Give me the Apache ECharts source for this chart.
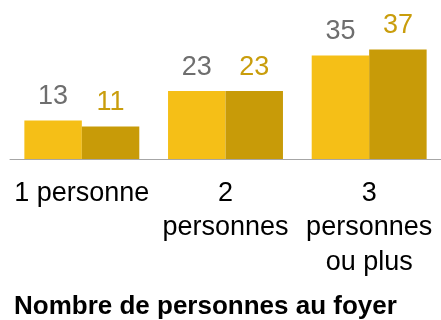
<!DOCTYPE html>
<html>
<head>
<meta charset="utf-8">
<style>
  html, body { margin: 0; padding: 0; background: #ffffff; }
  #chart { width: 441px; height: 320px; }
</style>
<script src="https://cdn.jsdelivr.net/npm/echarts@6/dist/echarts.min.js"></script>
</head>
<body>
<div id="chart"></div>
<script>
// Household size groups and the two compared series
const categories = ['1 personne', '2\npersonnes', '3\npersonnes\nou plus'];
const seriesA = [13, 23, 35];
const seriesB = [11, 23, 37];
const axisTitle = 'Nombre de personnes au foyer';

const FONT = '"Liberation Sans", Arial, sans-serif';

const chart = echarts.init(document.getElementById('chart'), null, { renderer: 'canvas' });

chart.setOption({
  animation: false,
  backgroundColor: '#ffffff',
  title: {
    text: axisTitle,
    left: 9,
    top: 289,
    textStyle: { fontFamily: FONT, fontSize: 26, fontWeight: 'bold', color: '#000000' }
  },
  grid: { left: 10, right: -4, top: 11, bottom: 161, containLabel: false },
  xAxis: {
    type: 'category',
    data: categories,
    axisLine: { show: true, lineStyle: { color: '#a6a6a6', width: 1 } },
    axisTick: { show: false },
    axisLabel: {
      interval: 0,
      margin: 17,
      fontFamily: FONT,
      fontSize: 27,
      lineHeight: 34.5,
      color: '#000000',
      align: 'center'
    }
  },
  yAxis: {
    type: 'value',
    min: 0,
    max: 50,
    show: false,
    splitLine: { show: false }
  },
  series: [
    {
      type: 'bar',
      data: seriesA,
      barGap: '0%',
      barCategoryGap: '20%',
      itemStyle: { color: '#F5BF17' },
      label: {
        show: true,
        position: 'top',
        distance: 10,
        fontFamily: FONT,
        fontSize: 27,
        color: '#6e6e6e'
      }
    },
    {
      type: 'bar',
      data: seriesB,
      barGap: '0%',
      barCategoryGap: '20%',
      itemStyle: { color: '#C89B08' },
      label: {
        show: true,
        position: 'top',
        distance: 10,
        fontFamily: FONT,
        fontSize: 27,
        color: '#C99D0C'
      }
    }
  ]
});
</script>
</body>
</html>
